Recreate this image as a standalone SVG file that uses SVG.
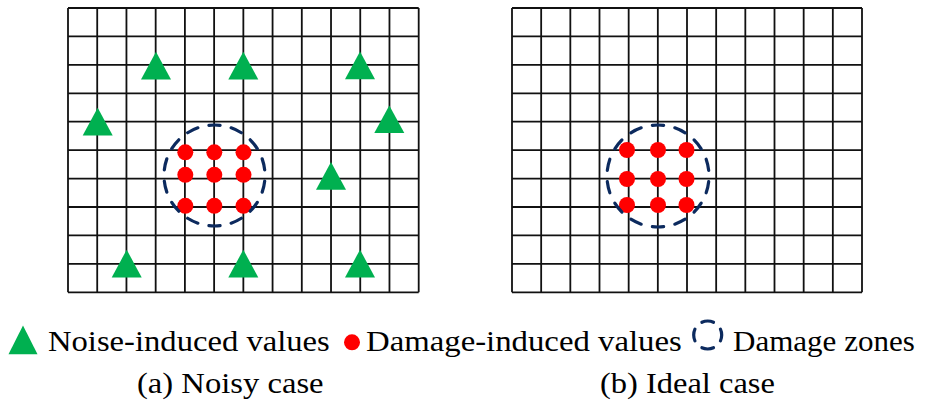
<svg xmlns="http://www.w3.org/2000/svg" xmlns:xlink="http://www.w3.org/1999/xlink" width="933" height="404" viewBox="0 0 933 404">
<style>
.grid{fill:none;stroke:#111;stroke-width:1.8}
.tri{fill:#00B050}
.dot{fill:#FF0000}
.zone{fill:none;stroke:#0C2A5E;stroke-width:3.2;stroke-linecap:round}
.t{font-family:"Liberation Serif","Times New Roman",serif;fill:#000}
</style>
<defs>
<path id="t" d="M0,-13.8 L15,13.9 L-15,13.9 Z"/>
<circle id="d" r="8"/>
</defs>
<rect width="933" height="404" fill="#fff"/>
<g id="grid-a">
<path class="grid" d="M68,8V292.3M97.22,8V292.3M126.45,8V292.3M155.67,8V292.3M184.9,8V292.3M214.12,8V292.3M243.35,8V292.3M272.57,8V292.3M301.8,8V292.3M331.02,8V292.3M360.25,8V292.3M389.47,8V292.3M418.7,8V292.3M68,8H418.7M68,36.43H418.7M68,64.86H418.7M68,93.29H418.7M68,121.72H418.7M68,150.15H418.7M68,178.58H418.7M68,207.01H418.7M68,235.44H418.7M68,263.87H418.7M68,292.3H418.7"/>
</g>
<g id="grid-b">
<path class="grid" d="M512,8V292.3M541.17,8V292.3M570.33,8V292.3M599.5,8V292.3M628.67,8V292.3M657.83,8V292.3M687,8V292.3M716.17,8V292.3M745.33,8V292.3M774.5,8V292.3M803.67,8V292.3M832.83,8V292.3M862,8V292.3M512,8H862M512,36.43H862M512,64.86H862M512,93.29H862M512,121.72H862M512,150.15H862M512,178.58H862M512,207.01H862M512,235.44H862M512,263.87H862M512,292.3H862"/>
</g>
<g id="noise-a">
<use class="tri" xlink:href="#t" x="156" y="65.5"/>
<use class="tri" xlink:href="#t" x="243.3" y="65.5"/>
<use class="tri" xlink:href="#t" x="360" y="65.3"/>
<use class="tri" xlink:href="#t" x="97.7" y="121.5"/>
<use class="tri" xlink:href="#t" x="389.3" y="119.2"/>
<use class="tri" xlink:href="#t" x="331" y="175.8"/>
<use class="tri" xlink:href="#t" x="126.7" y="263.5"/>
<use class="tri" xlink:href="#t" x="243.3" y="263.5"/>
<use class="tri" xlink:href="#t" x="360" y="263.5"/>
</g>
<g id="damage-a">
<use class="dot" xlink:href="#d" x="185.3" y="152.3"/>
<use class="dot" xlink:href="#d" x="214.3" y="152.3"/>
<use class="dot" xlink:href="#d" x="243.5" y="152.3"/>
<use class="dot" xlink:href="#d" x="185.3" y="174.8"/>
<use class="dot" xlink:href="#d" x="214.3" y="174.8"/>
<use class="dot" xlink:href="#d" x="243.5" y="174.8"/>
<use class="dot" xlink:href="#d" x="185.3" y="205.8"/>
<use class="dot" xlink:href="#d" x="214.3" y="205.8"/>
<use class="dot" xlink:href="#d" x="243.5" y="205.8"/>
</g>
<g id="zone-a">
<circle class="zone" cx="214.5" cy="175.5" r="50.5" pathLength="322" stroke-dasharray="11.5 11.5" stroke-dashoffset="17.25"/>
</g>
<g id="damage-b">
<use class="dot" xlink:href="#d" x="627" y="150"/>
<use class="dot" xlink:href="#d" x="658" y="150"/>
<use class="dot" xlink:href="#d" x="686.5" y="150"/>
<use class="dot" xlink:href="#d" x="627" y="179"/>
<use class="dot" xlink:href="#d" x="658" y="179"/>
<use class="dot" xlink:href="#d" x="686.5" y="179"/>
<use class="dot" xlink:href="#d" x="627" y="205"/>
<use class="dot" xlink:href="#d" x="658" y="205"/>
<use class="dot" xlink:href="#d" x="686.5" y="205"/>
</g>
<g id="zone-b">
<circle class="zone" cx="658" cy="176" r="51" pathLength="322" stroke-dasharray="11.5 11.5" stroke-dashoffset="17.25"/>
</g>
<g id="legend">
<path class="tri" d="M23,325.5 L37.5,354.3 L8.5,354.3 Z"/>
<text class="t" font-size="30" transform="translate(48 350.5) scale(1.088 1)">Noise-induced values</text>
<use class="dot" xlink:href="#d" x="352" y="342.3"/>
<text class="t" font-size="30" transform="translate(366 350.5) scale(1.093 1)">Damage-induced values</text>
<circle class="zone" cx="707.7" cy="335" r="14" stroke-width="3.5" pathLength="88" stroke-dasharray="12 10" stroke-dashoffset="6"/>
<text class="t" font-size="30" transform="translate(733 350.5) scale(1.035 1)">Damage zones</text>
</g>
<g id="captions">
<text class="t" font-size="28.5" transform="translate(137 393) scale(1.145 1)">(a) Noisy case</text>
<text class="t" font-size="28.5" transform="translate(600 393) scale(1.14 1)">(b) Ideal case</text>
</g>
</svg>
